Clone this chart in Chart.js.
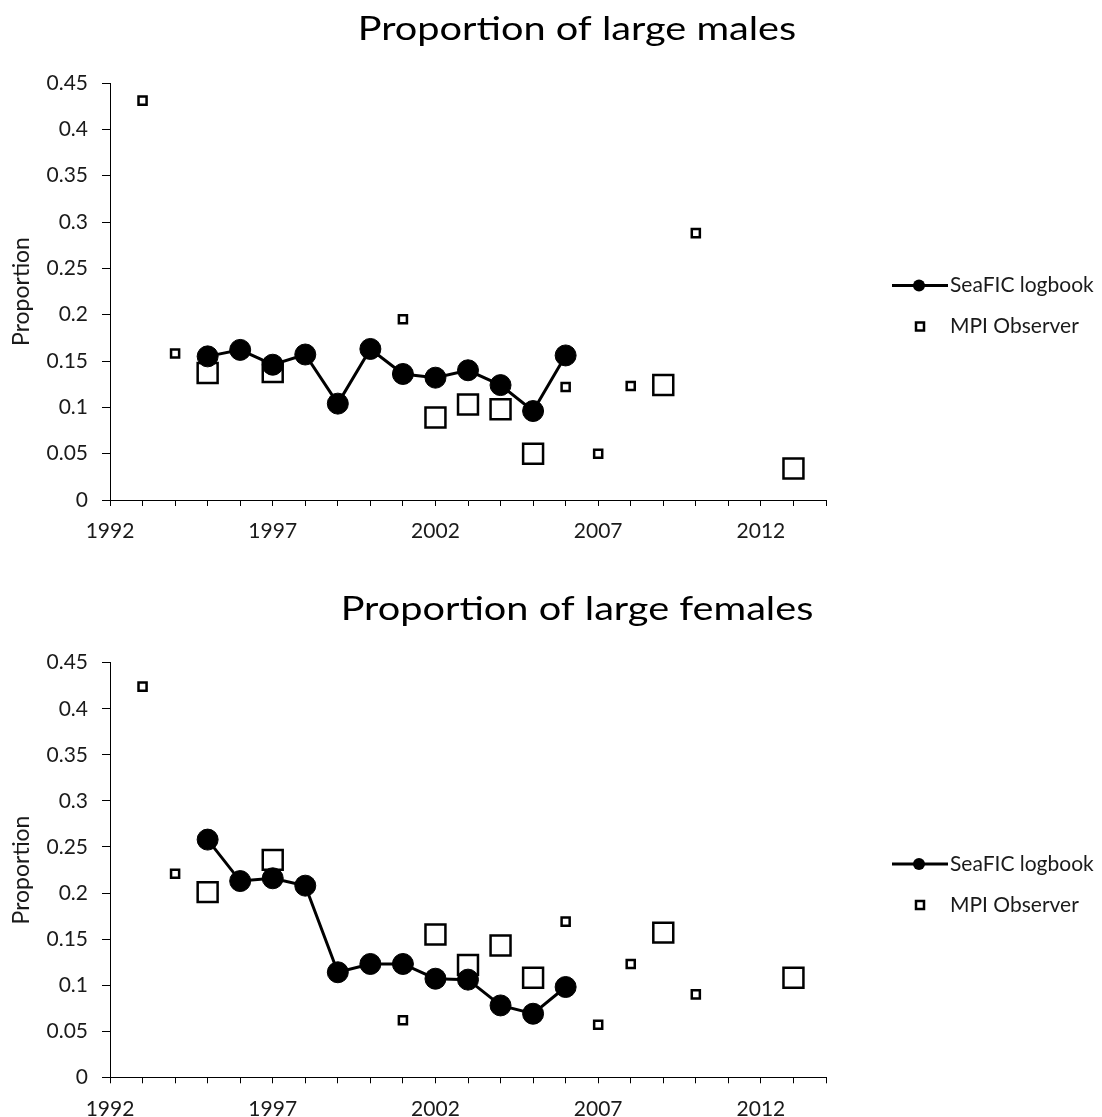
<!DOCTYPE html>
<html>
<head>
<meta charset="utf-8">
<title>Proportion of large males and females</title>
<script src="https://cdn.jsdelivr.net/npm/chart.js@4.4.1/dist/chart.umd.min.js"></script>
<style>
  html, body { margin: 0; padding: 0; background: #fff; }
  #wrap { position: relative; width: 1102px; height: 1117px; overflow: hidden; }
  canvas { position: absolute; left: 0; display: block; }
  #males { top: 0; }
  #females { top: 560px; }
</style>
</head>
<body>
<div id="wrap">
  <canvas id="males" width="1102" height="560"></canvas>
  <canvas id="females" width="1102" height="557"></canvas>
</div>
<script>
// Fishing years covered by each source
const logbookYears  = [1995, 1996, 1997, 1998, 1999, 2000, 2001, 2002, 2003, 2004, 2005, 2006];
const observerYears = [1993, 1994, 1995, 1997, 2001, 2002, 2003, 2004, 2005, 2006, 2007, 2008, 2009, 2010, 2013];

// Observer sampling level per year (drawn as small or large squares)
const observerSample = ['low', 'low', 'high', 'high', 'low', 'high', 'high', 'high', 'high', 'low', 'low', 'low', 'high', 'low', 'high'];

// Proportion of large males
const maleLogbook  = [0.155, 0.162, 0.146, 0.157, 0.104, 0.163, 0.136, 0.132, 0.140, 0.124, 0.096, 0.156];
const maleObserver = [0.431, 0.158, 0.137, 0.138, 0.195, 0.089, 0.103, 0.098, 0.050, 0.122, 0.050, 0.123, 0.124, 0.288, 0.034];

// Proportion of large females
const femaleLogbook  = [0.258, 0.213, 0.216, 0.208, 0.114, 0.123, 0.123, 0.107, 0.106, 0.078, 0.069, 0.098];
const femaleObserver = [0.424, 0.221, 0.201, 0.236, 0.062, 0.155, 0.122, 0.143, 0.108, 0.169, 0.057, 0.123, 0.157, 0.090, 0.108];

// Series names and titles
const seriesNames = ['SeaFIC logbook', 'MPI Observer'];
const maleTitle = 'Proportion of large males';
const femaleTitle = 'Proportion of large females';
const yAxisTitle = 'Proportion';

// Axis settings
const yearMin = 1992, yearMax = 2014, yearLabelEvery = 5;
const propMin = 0, propMax = 0.45, propStep = 0.05;

const FONT = 'Lato';
const INK = '#1a1a1a';
const squareRadius = { low: 5.7, high: 14.1 };

// Chart title centred over plot + legend, and the legend to the right of the plot
const decorations = {
  id: 'decorations',
  afterDraw(chart, args, opts) {
    const { ctx, chartArea } = chart;
    const ds = chart.data.datasets;
    ctx.save();

    // title, set in a wide face
    ctx.save();
    ctx.font = '32px ' + FONT;
    ctx.textAlign = 'center';
    ctx.textBaseline = 'alphabetic';
    ctx.fillStyle = '#000';
    ctx.translate(577, opts.titleBaseline);
    ctx.scale(1.24, 1);
    ctx.fillText(opts.title, 0, 0);
    ctx.restore();

    const mid = (chartArea.top + chartArea.bottom) / 2;
    const x0 = chartArea.right + 66;
    ctx.font = '21px ' + FONT;
    ctx.textBaseline = 'middle';
    ctx.textAlign = 'left';

    // line + dot entry
    let y = mid - 6;
    ctx.strokeStyle = '#000';
    ctx.lineWidth = 3;
    ctx.beginPath();
    ctx.moveTo(x0, y);
    ctx.lineTo(x0 + 56, y);
    ctx.stroke();
    ctx.fillStyle = '#000';
    ctx.beginPath();
    ctx.arc(x0 + 27, y, 6, 0, Math.PI * 2);
    ctx.fill();
    ctx.fillStyle = INK;
    ctx.fillText(ds[0].label, x0 + 58, y);

    // square entry
    y = mid + 35;
    ctx.lineWidth = 2.5;
    ctx.strokeStyle = '#000';
    ctx.fillStyle = '#fff';
    ctx.beginPath();
    ctx.rect(x0 + 24, y - 4, 8, 8);
    ctx.fill();
    ctx.stroke();
    ctx.fillStyle = INK;
    ctx.fillText(ds[1].label, x0 + 58, y);
    ctx.restore();
  }
};

function makeChart(id, titleText, logbook, observer, plotTop, titleBaseline, axisHeight) {
  const logbookPts = logbookYears.map((yr, i) => ({ x: yr, y: logbook[i] }));
  const observerPts = observerYears.map((yr, i) => ({ x: yr, y: observer[i] }));

  return new Chart(document.getElementById(id), {
    type: 'line',
    data: {
      datasets: [
        {
          label: seriesNames[0],
          data: logbookPts,
          borderColor: '#000',
          borderWidth: 3,
          tension: 0,
          fill: false,
          pointStyle: 'circle',
          pointRadius: 10.5,
          pointBackgroundColor: '#000',
          pointBorderColor: '#000',
          pointBorderWidth: 1,
          clip: false
        },
        {
          label: seriesNames[1],
          data: observerPts,
          showLine: false,
          pointStyle: 'rect',
          pointRadius: (c) => squareRadius[observerSample[c.dataIndex]],
          pointBackgroundColor: '#fff',
          pointBorderColor: '#000',
          pointBorderWidth: 2.5,
          clip: false
        }
      ]
    },
    options: {
      responsive: false,
      animation: false,
      events: [],
      layout: { padding: { left: 0, right: 276, top: plotTop, bottom: 0 } },
      plugins: {
        legend: { display: false },
        tooltip: { enabled: false },
        title: { display: false },
        decorations: { title: titleText, titleBaseline: titleBaseline }
      },
      scales: {
        x: {
          type: 'linear',
          min: yearMin,
          max: yearMax,
          ticks: {
            stepSize: 1,
            autoSkip: false,
            maxRotation: 0,
            padding: 13,
            color: INK,
            font: { family: FONT, size: 21 },
            callback: (v) => {
              const yr = Math.round(v);
              return (yr - yearMin) % yearLabelEvery === 0 ? String(yr) : '';
            }
          },
          grid: { drawOnChartArea: false, drawTicks: true, tickLength: 6, color: '#000', tickColor: '#000', lineWidth: 1 },
          border: { display: true, color: '#000', width: 1 },
          afterFit: (s) => { s.height = axisHeight; }
        },
        y: {
          min: propMin,
          max: propMax,
          ticks: {
            stepSize: propStep,
            padding: 14,
            color: INK,
            font: { family: FONT, size: 21 },
            callback: (v) => String(Number(v.toFixed(2)))
          },
          grid: { drawOnChartArea: false, drawTicks: true, tickLength: 8, color: '#000', tickColor: '#000', lineWidth: 1 },
          border: { display: true, color: '#000', width: 1 },
          title: {
            display: true,
            text: yAxisTitle,
            color: INK,
            font: { family: FONT, size: 23 },
            padding: { top: 8, bottom: 0 }
          },
          afterFit: (s) => { s.width = 110; }
        }
      }
    },
    plugins: [decorations]
  });
}

makeChart('males', maleTitle, maleLogbook, maleObserver, 83, 40, 60);
makeChart('females', femaleTitle, femaleLogbook, femaleObserver, 102.7, 60, 39.7);
</script>
</body>
</html>
